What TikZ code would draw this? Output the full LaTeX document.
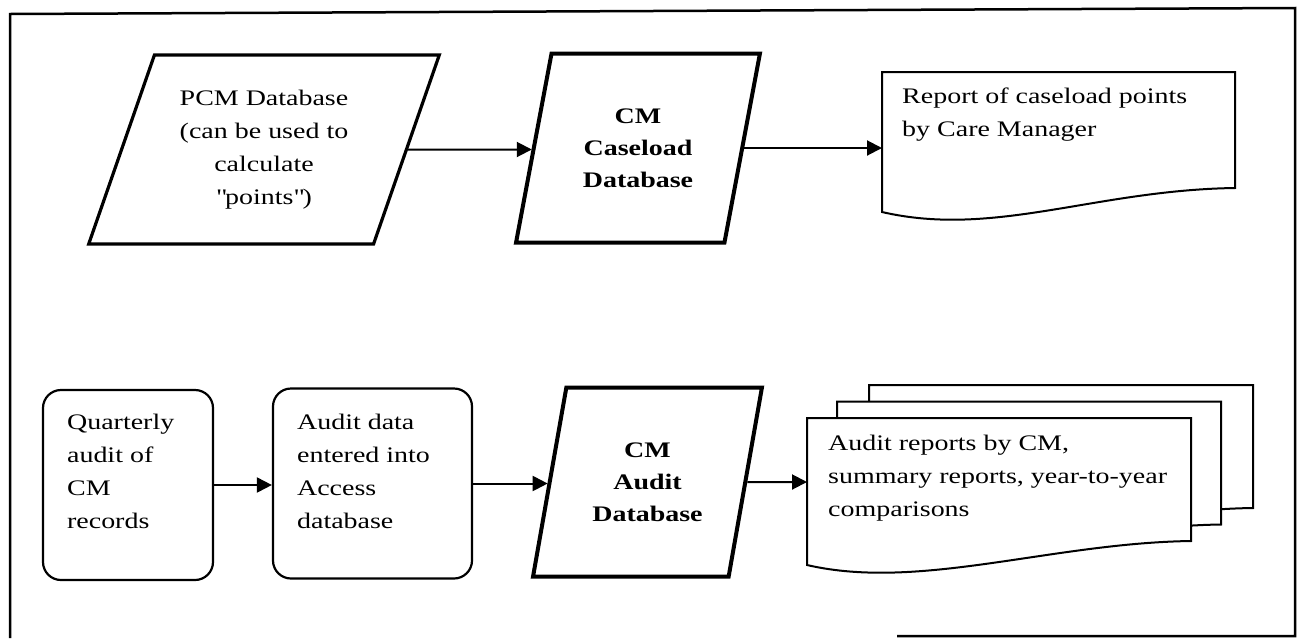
\documentclass[tikz,border=0pt]{standalone}
\usepackage{fontspec}
\setmainfont{Liberation Serif}[FakeStretch=1.26]
\usetikzlibrary{shapes.geometric,arrows.meta}

\tikzset{
	txt/.style={font=\fontsize{22.2pt}{33pt}\selectfont, inner sep=0pt, align=left},
	db/.style={trapezium, draw, trapezium stretches=true, minimum height=189pt, inner sep=0pt, align=center, font=\fontsize{22.2pt}{33pt}\selectfont},
	dbb/.style={db, line width=4pt, trapezium left angle=74, trapezium right angle=106, font=\fontsize{22.2pt}{32pt}\selectfont\bfseries},
	proc/.style={draw, rounded corners=18pt, line width=2.2pt, minimum height=190pt, inner sep=0pt},
	docu/.style={minimum width=384pt, minimum height=123pt, inner sep=0pt, outer sep=0pt},
	docline/.style={draw, fill=white, line width=2pt},
	flow/.style={->, line width=2pt},
}

\begin{document}
\begin{tikzpicture}[x=1pt,y=-1pt,>={Triangle[length=15pt,width=15pt]}]
		\useasboundingbox (0,0) rectangle (1298,638);
		% The frame
		\draw[line width=2.5pt] (897,636) -- (1295,636) -- (1295,8) -- (10,14) -- (10,638);

		% The caseload row
		\node[db, line width=3.2pt, trapezium left angle=67, trapezium right angle=113, minimum width=352pt] (pcm) at (264,149.5) {PCM Database\\(can be used to\\calculate\\\textquotedbl points\textquotedbl)};
		\node[dbb, minimum width=244pt] (csl) at (638,148) {CM\\Caseload\\Database};
		\node[docu, minimum width=353pt, minimum height=116pt] (rep) at (1058.5,130) {};

		% The audit row
		\node[proc, minimum width=170pt] (qa) at (128,485) {};
		\node[proc, minimum width=199pt] (ade) at (372.5,483.5) {};
		\node[dbb, minimum width=229pt] (adb) at (647.5,482) {CM\\Audit\\Database};
		\node[docu] (aurepc) at (1061,446.5) {};
		\node[docu] (aurepb) at (1029,463) {};
		\node[docu] (aurep) at (999,479.5) {};

		% The report pages, back to front
		\foreach \d in {aurepc,aurepb,aurep,rep}
		{
			\draw[docline] (\d.north west) -- (\d.north east) -- (\d.south east) .. controls +(-140,2) and +(112,26) .. ([yshift=-24pt]\d.south west) -- cycle;
		}

		% The texts
		\node[txt, anchor=north west] (reptxt) at ([xshift=20pt,yshift=-16pt]rep.north west) {Report of caseload points\\by Care Manager};
		\node[txt, anchor=north west] (aureptxt) at ([xshift=21pt,yshift=-17pt]aurep.north west) {Audit reports by CM,\\summary reports, year-to-year\\comparisons};
		\node[txt, anchor=north west] (qatxt) at ([xshift=25pt,yshift=-25pt]qa.north west) {Quarterly\\audit of\\CM\\records};
		\node[txt, anchor=north west] (adetxt) at ([xshift=25pt,yshift=-26pt]ade.north west) {Audit data\\entered into\\Access\\database};

		% The arrows
		\draw[flow] (pcm) -- (pcm -| csl.left side);
		\draw[flow] (csl) -- (csl -| rep.west);
		\draw[flow] (qa) -- (qa -| ade.west);
		\draw[flow] (ade) -- (ade -| adb.left side);
		\draw[flow] (adb) -- (adb -| aurep.west);
	\end{tikzpicture}
\end{document}
